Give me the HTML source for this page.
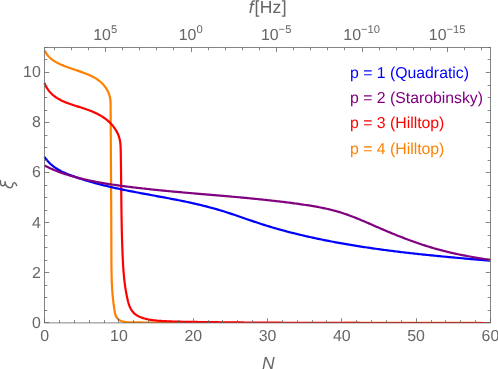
<!DOCTYPE html>
<html><head><meta charset="utf-8"><title>plot</title>
<style>html,body{margin:0;padding:0;background:#fff;overflow:hidden}svg{display:block;will-change:transform}text{font-family:"Liberation Sans",sans-serif;text-rendering:geometricPrecision}</style></head><body>
<svg width="498" height="369" viewBox="0 0 498 369">
<rect width="498" height="369" fill="#fff"/>
<defs><clipPath id="c"><rect x="42" y="45" width="449.5" height="278"/></clipPath></defs>
<g clip-path="url(#c)" fill="none" stroke-width="2.2" stroke-linejoin="round">
<path d="M44.65 50.53 L45.38 51.93 L46.18 53.25 L47.05 54.49 L47.99 55.66 L48.99 56.76 L50.05 57.80 L51.16 58.77 L52.32 59.68 L53.53 60.55 L54.77 61.36 L56.05 62.12 L57.36 62.84 L58.69 63.52 L60.05 64.17 L61.43 64.78 L62.83 65.37 L64.23 65.93 L65.64 66.47 L67.05 67.00 L68.46 67.51 L69.87 68.00 L71.28 68.49 L72.69 68.98 L74.09 69.46 L75.50 69.93 L76.91 70.41 L78.32 70.90 L79.72 71.38 L81.13 71.88 L82.54 72.39 L83.95 72.91 L85.35 73.45 L86.76 74.00 L88.16 74.58 L89.54 75.18 L90.92 75.82 L92.27 76.48 L93.60 77.17 L94.91 77.91 L96.19 78.68 L97.44 79.50 L98.65 80.36 L99.81 81.27 L100.94 82.23 L102.02 83.24 L103.05 84.30 L104.04 85.41 L104.96 86.57 L105.83 87.79 L106.64 89.05 L107.39 90.37 L108.06 91.73 L108.66 93.13 L109.19 94.55 L109.63 96.00 L109.98 97.47 L110.25 98.94 L110.42 100.43 L110.53 101.91 L110.59 103.40 L110.62 104.90 L110.63 106.39 L110.64 107.89 L110.64 109.38 L110.65 110.88 L110.66 112.37 L110.67 113.87 L110.68 115.36 L110.68 116.86 L110.69 118.35 L110.70 119.85 L110.71 121.34 L110.72 122.84 L110.73 124.34 L110.73 125.83 L110.74 127.33 L110.75 128.82 L110.76 130.32 L110.77 131.82 L110.78 133.31 L110.79 134.81 L110.79 136.31 L110.80 137.80 L110.81 139.30 L110.82 140.80 L110.83 142.30 L110.84 143.79 L110.85 145.29 L110.85 146.79 L110.86 148.28 L110.87 149.78 L110.88 151.28 L110.89 152.78 L110.90 154.28 L110.91 155.77 L110.92 157.27 L110.92 158.77 L110.93 160.27 L110.94 161.76 L110.95 163.26 L110.96 164.76 L110.97 166.26 L110.98 167.76 L110.98 169.25 L110.99 170.75 L111.00 172.25 L111.01 173.75 L111.02 175.25 L111.03 176.75 L111.04 178.24 L111.04 179.74 L111.05 181.24 L111.06 182.74 L111.07 184.24 L111.08 185.73 L111.09 187.23 L111.09 188.73 L111.10 190.23 L111.11 191.73 L111.12 193.23 L111.13 194.72 L111.14 196.22 L111.14 197.72 L111.15 199.22 L111.16 200.72 L111.17 202.21 L111.17 203.71 L111.18 205.21 L111.19 206.71 L111.20 208.20 L111.20 209.70 L111.21 211.20 L111.22 212.70 L111.23 214.20 L111.23 215.69 L111.24 217.19 L111.25 218.69 L111.25 220.19 L111.26 221.68 L111.27 223.18 L111.28 224.68 L111.28 226.17 L111.29 227.67 L111.29 229.17 L111.30 230.66 L111.31 232.16 L111.31 233.66 L111.32 235.15 L111.33 236.65 L111.33 238.15 L111.34 239.64 L111.34 241.14 L111.35 242.63 L111.35 244.13 L111.36 245.63 L111.36 247.12 L111.37 248.62 L111.37 250.11 L111.38 251.61 L111.38 253.10 L111.39 254.60 L111.39 256.09 L111.40 257.59 L111.40 259.08 L111.41 260.57 L111.42 262.07 L111.42 263.56 L111.43 265.06 L111.45 266.55 L111.46 268.05 L111.48 269.54 L111.50 271.03 L111.53 272.53 L111.56 274.02 L111.59 275.52 L111.63 277.01 L111.68 278.51 L111.73 280.00 L111.78 281.50 L111.85 282.99 L111.91 284.49 L111.99 285.98 L112.07 287.48 L112.16 288.97 L112.26 290.47 L112.37 291.97 L112.49 293.46 L112.61 294.96 L112.75 296.46 L112.89 297.96 L113.05 299.45 L113.21 300.95 L113.39 302.45 L113.57 303.95 L113.77 305.45 L113.99 306.95 L114.21 308.45 L114.45 309.95 L114.70 311.45 L114.98 312.94 L115.34 314.39 L115.80 315.77 L116.42 317.06 L117.22 318.24 L118.22 319.27 L119.40 320.12 L120.72 320.80 L122.14 321.32 L123.64 321.70 L125.17 321.97 L126.71 322.15 L128.22 322.26 L129.73 322.33 L131.23 322.36 L132.73 322.38 L134.22 322.39 L135.71 322.41 L137.21 322.42 L138.70 322.44 L140.20 322.45 L141.69 322.46 L143.19 322.48 L144.69 322.49 L146.18 322.50 L147.68 322.52 L149.17 322.53 L150.67 322.54 L152.16 322.56 L153.66 322.57 L155.15 322.58 L156.65 322.59 L158.14 322.60 L159.64 322.61 L161.13 322.63 L162.63 322.64 L164.13 322.65 L165.62 322.66 L167.12 322.67 L168.61 322.68 L170.11 322.69 L171.61 322.70 L173.10 322.71 L174.60 322.72 L176.09 322.73 L177.59 322.74 L179.09 322.75 L180.58 322.75 L182.08 322.76 L183.57 322.77 L185.07 322.78 L186.57 322.79 L188.06 322.80 L189.56 322.80 L191.06 322.81 L192.55 322.82 L194.05 322.83 L195.55 322.83 L197.04 322.84 L198.54 322.85 L200.04 322.85 L201.53 322.86 L203.03 322.87 L204.53 322.87 L206.02 322.88 L207.52 322.88 L209.02 322.89 L210.51 322.90 L212.01 322.90 L213.51 322.91 L215.00 322.91 L216.50 322.92 L218.00 322.92 L219.49 322.93 L220.99 322.93 L222.49 322.93 L223.99 322.94 L225.48 322.94 L226.98 322.95 L228.48 322.95 L229.97 322.95 L231.47 322.96 L232.97 322.96 L234.47 322.96 L235.96 322.97 L237.46 322.97 L238.96 322.97 L240.46 322.98 L241.95 322.98 L243.45 322.98 L244.95 322.98 L246.45 322.99 L247.94 322.99 L249.44 322.99 L250.94 322.99 L252.44 323.00 L253.93 323.00 L255.43 323.00 L256.93 323.00 L258.43 323.00 L259.92 323.00 L261.42 323.01 L262.92 323.01 L264.42 323.01 L265.91 323.01 L267.41 323.01 L268.91 323.01 L270.41 323.01 L271.91 323.01 L273.40 323.01 L274.90 323.01 L276.40 323.01 L277.90 323.01 L279.39 323.01 L280.89 323.02 L282.39 323.02 L283.89 323.02 L285.39 323.02 L286.88 323.02 L288.38 323.02 L289.88 323.02 L291.38 323.01 L292.88 323.01 L294.37 323.01 L295.87 323.01 L297.37 323.01 L298.87 323.01 L300.36 323.01 L301.86 323.01 L303.36 323.01 L304.86 323.01 L306.36 323.01 L307.85 323.01 L309.35 323.01 L310.85 323.01 L312.35 323.01 L313.85 323.00 L315.34 323.00 L316.84 323.00 L318.34 323.00 L319.84 323.00 L321.34 323.00 L322.83 323.00 L324.33 323.00 L325.83 322.99 L327.33 322.99 L328.83 322.99 L330.32 322.99 L331.82 322.99 L333.32 322.99 L334.82 322.99 L336.32 322.98 L337.81 322.98 L339.31 322.98 L340.81 322.98 L342.31 322.98 L343.80 322.98 L345.30 322.97 L346.80 322.97 L348.30 322.97 L349.80 322.97 L351.29 322.97 L352.79 322.97 L354.29 322.96 L355.79 322.96 L357.29 322.96 L358.78 322.96 L360.28 322.96 L361.78 322.96 L363.28 322.95 L364.77 322.95 L366.27 322.95 L367.77 322.95 L369.27 322.95 L370.77 322.95 L372.26 322.94 L373.76 322.94 L375.26 322.94 L376.76 322.94 L378.25 322.94 L379.75 322.94 L381.25 322.94 L382.75 322.93 L384.24 322.93 L385.74 322.93 L387.24 322.93 L388.74 322.93 L390.23 322.93 L391.73 322.93 L393.23 322.92 L394.73 322.92 L396.22 322.92 L397.72 322.92 L399.22 322.92 L400.72 322.92 L402.21 322.92 L403.71 322.92 L405.21 322.92 L406.71 322.92 L408.20 322.92 L409.70 322.91 L411.20 322.91 L412.69 322.91 L414.19 322.91 L415.69 322.91 L417.19 322.91 L418.68 322.91 L420.18 322.91 L421.68 322.91 L423.17 322.91 L424.67 322.91 L426.17 322.91 L427.66 322.91 L429.16 322.91 L430.66 322.91 L432.15 322.91 L433.65 322.91 L435.15 322.91 L436.64 322.91 L438.14 322.91 L439.64 322.91 L441.13 322.91 L442.63 322.92 L444.13 322.92 L445.62 322.92 L447.12 322.92 L448.62 322.92 L450.11 322.92 L451.61 322.92 L453.11 322.92 L454.60 322.93 L456.10 322.93 L457.59 322.93 L459.09 322.93 L460.59 322.93 L462.08 322.94 L463.58 322.94 L465.07 322.94 L466.57 322.94 L468.07 322.95 L469.56 322.95 L471.06 322.95 L472.55 322.95 L474.05 322.96 L475.55 322.96 L477.04 322.96 L478.54 322.97 L480.03 322.97 L481.53 322.97 L483.02 322.98 L484.52 322.98 L486.01 322.99 L487.51 322.99 L489.00 322.99 L490.50 323.00" stroke="#ff8000"/>
<path d="M44.47 83.01 L45.11 84.54 L45.80 85.99 L46.55 87.38 L47.36 88.69 L48.22 89.93 L49.13 91.11 L50.08 92.23 L51.09 93.29 L52.13 94.30 L53.22 95.25 L54.35 96.15 L55.52 97.00 L56.72 97.81 L57.95 98.58 L59.21 99.30 L60.51 99.99 L61.83 100.65 L63.17 101.27 L64.53 101.87 L65.92 102.44 L67.32 102.98 L68.74 103.51 L70.17 104.02 L71.61 104.51 L73.06 104.99 L74.52 105.47 L75.98 105.93 L77.44 106.40 L78.90 106.86 L80.36 107.32 L81.82 107.79 L83.27 108.26 L84.71 108.74 L86.15 109.24 L87.57 109.74 L88.99 110.26 L90.39 110.80 L91.78 111.35 L93.16 111.93 L94.53 112.52 L95.88 113.14 L97.21 113.79 L98.52 114.47 L99.82 115.17 L101.09 115.91 L102.35 116.68 L103.58 117.49 L104.79 118.33 L105.98 119.22 L107.14 120.14 L108.27 121.11 L109.38 122.13 L110.45 123.18 L111.49 124.28 L112.48 125.42 L113.44 126.59 L114.35 127.80 L115.20 129.04 L116.01 130.32 L116.75 131.62 L117.44 132.95 L118.06 134.31 L118.61 135.70 L119.09 137.11 L119.50 138.54 L119.83 139.99 L120.09 141.46 L120.29 142.95 L120.45 144.44 L120.56 145.94 L120.63 147.45 L120.69 148.97 L120.72 150.48 L120.75 151.99 L120.78 153.50 L120.80 155.00 L120.83 156.50 L120.85 157.99 L120.87 159.48 L120.90 160.97 L120.92 162.46 L120.94 163.95 L120.96 165.44 L120.98 166.94 L121.00 168.43 L121.02 169.92 L121.03 171.41 L121.05 172.91 L121.07 174.40 L121.08 175.90 L121.10 177.39 L121.12 178.89 L121.13 180.39 L121.15 181.88 L121.16 183.38 L121.18 184.88 L121.19 186.38 L121.21 187.88 L121.22 189.37 L121.24 190.87 L121.25 192.37 L121.27 193.87 L121.28 195.37 L121.30 196.87 L121.31 198.38 L121.33 199.88 L121.35 201.38 L121.36 202.88 L121.38 204.38 L121.40 205.88 L121.42 207.38 L121.44 208.88 L121.46 210.38 L121.48 211.88 L121.50 213.39 L121.52 214.89 L121.54 216.39 L121.57 217.89 L121.59 219.39 L121.62 220.89 L121.65 222.39 L121.67 223.89 L121.70 225.39 L121.73 226.89 L121.77 228.39 L121.80 229.89 L121.83 231.39 L121.87 232.89 L121.91 234.38 L121.95 235.88 L121.99 237.38 L122.03 238.88 L122.07 240.37 L122.12 241.87 L122.16 243.36 L122.21 244.86 L122.26 246.35 L122.31 247.85 L122.37 249.34 L122.42 250.83 L122.48 252.32 L122.54 253.81 L122.61 255.30 L122.67 256.79 L122.74 258.28 L122.81 259.77 L122.88 261.26 L122.96 262.75 L123.04 264.23 L123.13 265.72 L123.23 267.21 L123.33 268.69 L123.43 270.18 L123.55 271.67 L123.67 273.16 L123.80 274.64 L123.94 276.13 L124.08 277.62 L124.24 279.11 L124.40 280.60 L124.58 282.09 L124.77 283.58 L124.97 285.07 L125.18 286.56 L125.40 288.06 L125.64 289.55 L125.89 291.05 L126.15 292.55 L126.43 294.05 L126.72 295.55 L127.03 297.05 L127.35 298.55 L127.70 300.05 L128.07 301.55 L128.48 303.02 L128.93 304.46 L129.43 305.87 L129.99 307.24 L130.62 308.55 L131.33 309.81 L132.12 310.99 L133.00 312.10 L133.98 313.13 L135.06 314.07 L136.24 314.92 L137.49 315.70 L138.81 316.40 L140.19 317.03 L141.63 317.59 L143.10 318.10 L144.59 318.54 L146.11 318.94 L147.64 319.29 L149.16 319.59 L150.67 319.85 L152.17 320.08 L153.66 320.28 L155.15 320.45 L156.63 320.60 L158.10 320.73 L159.58 320.85 L161.06 320.95 L162.53 321.04 L164.02 321.13 L165.50 321.21 L166.98 321.28 L168.47 321.35 L169.96 321.41 L171.45 321.46 L172.94 321.52 L174.43 321.56 L175.92 321.60 L177.42 321.64 L178.92 321.68 L180.41 321.71 L181.91 321.74 L183.41 321.77 L184.91 321.79 L186.41 321.81 L187.90 321.84 L189.40 321.86 L190.90 321.88 L192.40 321.90 L193.90 321.92 L195.40 321.94 L196.90 321.96 L198.40 321.98 L199.90 322.00 L201.40 322.02 L202.90 322.04 L204.40 322.06 L205.89 322.07 L207.39 322.09 L208.89 322.11 L210.39 322.13 L211.89 322.15 L213.39 322.16 L214.89 322.18 L216.39 322.20 L217.88 322.21 L219.38 322.23 L220.88 322.25 L222.38 322.26 L223.88 322.28 L225.38 322.29 L226.88 322.31 L228.38 322.32 L229.87 322.34 L231.37 322.35 L232.87 322.37 L234.37 322.38 L235.87 322.40 L237.37 322.41 L238.86 322.42 L240.36 322.44 L241.86 322.45 L243.36 322.46 L244.86 322.48 L246.36 322.49 L247.85 322.50 L249.35 322.51 L250.85 322.52 L252.35 322.54 L253.85 322.55 L255.35 322.56 L256.84 322.57 L258.34 322.58 L259.84 322.59 L261.34 322.60 L262.84 322.61 L264.33 322.62 L265.83 322.63 L267.33 322.64 L268.83 322.65 L270.33 322.66 L271.82 322.67 L273.32 322.68 L274.82 322.69 L276.32 322.70 L277.81 322.71 L279.31 322.72 L280.81 322.72 L282.31 322.73 L283.81 322.74 L285.30 322.75 L286.80 322.76 L288.30 322.76 L289.80 322.77 L291.30 322.78 L292.79 322.79 L294.29 322.79 L295.79 322.80 L297.29 322.81 L298.78 322.81 L300.28 322.82 L301.78 322.83 L303.28 322.83 L304.77 322.84 L306.27 322.84 L307.77 322.85 L309.27 322.86 L310.76 322.86 L312.26 322.87 L313.76 322.87 L315.26 322.88 L316.75 322.88 L318.25 322.89 L319.75 322.89 L321.25 322.90 L322.75 322.90 L324.24 322.90 L325.74 322.91 L327.24 322.91 L328.74 322.92 L330.23 322.92 L331.73 322.92 L333.23 322.93 L334.73 322.93 L336.22 322.93 L337.72 322.94 L339.22 322.94 L340.72 322.94 L342.21 322.95 L343.71 322.95 L345.21 322.95 L346.71 322.95 L348.20 322.96 L349.70 322.96 L351.20 322.96 L352.69 322.96 L354.19 322.97 L355.69 322.97 L357.19 322.97 L358.68 322.97 L360.18 322.98 L361.68 322.98 L363.18 322.98 L364.67 322.98 L366.17 322.98 L367.67 322.98 L369.17 322.98 L370.66 322.99 L372.16 322.99 L373.66 322.99 L375.16 322.99 L376.65 322.99 L378.15 322.99 L379.65 322.99 L381.15 322.99 L382.64 322.99 L384.14 323.00 L385.64 323.00 L387.14 323.00 L388.64 323.00 L390.13 323.00 L391.63 323.00 L393.13 323.00 L394.63 323.00 L396.12 323.00 L397.62 323.00 L399.12 323.00 L400.62 323.00 L402.11 323.00 L403.61 323.00 L405.11 323.00 L406.61 323.00 L408.10 323.00 L409.60 323.00 L411.10 323.00 L412.60 323.00 L414.09 323.00 L415.59 323.00 L417.09 323.00 L418.59 323.00 L420.09 323.00 L421.58 323.00 L423.08 323.00 L424.58 323.00 L426.08 323.00 L427.57 323.00 L429.07 323.00 L430.57 323.00 L432.07 323.00 L433.57 323.00 L435.06 323.00 L436.56 323.00 L438.06 323.00 L439.56 323.00 L441.06 323.00 L442.55 323.00 L444.05 323.00 L445.55 323.00 L447.05 323.00 L448.55 323.00 L450.04 323.00 L451.54 323.00 L453.04 323.00 L454.54 323.00 L456.04 323.00 L457.54 323.00 L459.03 323.00 L460.53 323.00 L462.03 323.00 L463.53 323.00 L465.03 323.00 L466.53 323.00 L468.02 323.00 L469.52 323.00 L471.02 323.00 L472.52 323.00 L474.02 323.00 L475.52 323.00 L477.01 323.00 L478.51 323.00 L480.01 323.00 L481.51 323.00 L483.01 323.00 L484.51 323.00 L486.01 323.00 L487.51 323.00 L489.00 323.00 L490.50 323.00" stroke="#ff0000"/>
<path d="M44.47 156.74 L45.34 158.04 L46.25 159.28 L47.19 160.47 L48.18 161.60 L49.21 162.68 L50.27 163.72 L51.37 164.71 L52.50 165.65 L53.66 166.56 L54.85 167.42 L56.07 168.24 L57.31 169.03 L58.58 169.78 L59.87 170.50 L61.18 171.20 L62.50 171.86 L63.85 172.50 L65.21 173.11 L66.58 173.70 L67.97 174.27 L69.36 174.82 L70.77 175.36 L72.18 175.88 L73.59 176.40 L75.01 176.90 L76.43 177.39 L77.85 177.87 L79.28 178.35 L80.70 178.82 L82.13 179.28 L83.56 179.73 L84.99 180.18 L86.42 180.61 L87.86 181.05 L89.29 181.47 L90.73 181.88 L92.17 182.29 L93.61 182.70 L95.06 183.09 L96.50 183.48 L97.95 183.87 L99.39 184.25 L100.84 184.62 L102.29 184.99 L103.74 185.35 L105.20 185.70 L106.65 186.05 L108.10 186.40 L109.56 186.74 L111.02 187.08 L112.48 187.41 L113.93 187.73 L115.39 188.06 L116.86 188.38 L118.32 188.69 L119.78 189.00 L121.25 189.31 L122.71 189.62 L124.18 189.92 L125.64 190.22 L127.11 190.51 L128.58 190.80 L130.05 191.09 L131.51 191.38 L132.98 191.67 L134.45 191.95 L135.93 192.23 L137.40 192.51 L138.87 192.79 L140.34 193.07 L141.81 193.34 L143.28 193.62 L144.76 193.89 L146.23 194.16 L147.70 194.43 L149.18 194.70 L150.65 194.97 L152.12 195.24 L153.60 195.51 L155.07 195.78 L156.54 196.05 L158.02 196.32 L159.49 196.59 L160.96 196.87 L162.43 197.14 L163.91 197.41 L165.38 197.69 L166.85 197.96 L168.32 198.24 L169.79 198.52 L171.26 198.80 L172.73 199.08 L174.20 199.36 L175.67 199.65 L177.14 199.94 L178.61 200.23 L180.07 200.52 L181.54 200.82 L183.01 201.12 L184.47 201.42 L185.93 201.73 L187.40 202.04 L188.86 202.35 L190.32 202.67 L191.78 202.99 L193.24 203.31 L194.70 203.64 L196.15 203.98 L197.61 204.31 L199.06 204.65 L200.51 205.00 L201.97 205.35 L203.42 205.71 L204.87 206.07 L206.31 206.44 L207.76 206.81 L209.20 207.19 L210.65 207.58 L212.09 207.97 L213.53 208.36 L214.97 208.76 L216.40 209.17 L217.84 209.59 L219.27 210.01 L220.70 210.44 L222.13 210.88 L223.56 211.32 L224.98 211.77 L226.41 212.22 L227.83 212.68 L229.26 213.15 L230.68 213.62 L232.10 214.09 L233.52 214.57 L234.93 215.04 L236.35 215.53 L237.77 216.01 L239.19 216.50 L240.60 216.98 L242.02 217.47 L243.44 217.96 L244.85 218.45 L246.27 218.94 L247.68 219.43 L249.10 219.92 L250.52 220.40 L251.94 220.89 L253.36 221.37 L254.77 221.85 L256.20 222.32 L257.62 222.80 L259.04 223.26 L260.46 223.73 L261.89 224.19 L263.32 224.64 L264.74 225.09 L266.17 225.54 L267.60 225.98 L269.04 226.42 L270.47 226.85 L271.90 227.28 L273.34 227.70 L274.77 228.12 L276.21 228.53 L277.65 228.94 L279.09 229.35 L280.53 229.75 L281.98 230.15 L283.42 230.54 L284.86 230.93 L286.31 231.32 L287.76 231.70 L289.20 232.07 L290.65 232.45 L292.10 232.82 L293.55 233.18 L295.00 233.55 L296.46 233.90 L297.91 234.26 L299.36 234.61 L300.82 234.96 L302.27 235.30 L303.73 235.64 L305.19 235.98 L306.65 236.31 L308.10 236.64 L309.56 236.97 L311.02 237.29 L312.49 237.61 L313.95 237.93 L315.41 238.25 L316.87 238.56 L318.34 238.87 L319.80 239.17 L321.26 239.47 L322.73 239.77 L324.20 240.07 L325.66 240.36 L327.13 240.65 L328.60 240.94 L330.06 241.22 L331.53 241.50 L333.00 241.78 L334.47 242.06 L335.94 242.33 L337.41 242.60 L338.88 242.87 L340.35 243.14 L341.83 243.40 L343.30 243.66 L344.77 243.92 L346.24 244.17 L347.72 244.42 L349.19 244.67 L350.67 244.92 L352.14 245.17 L353.62 245.41 L355.09 245.65 L356.57 245.89 L358.05 246.12 L359.52 246.35 L361.00 246.59 L362.48 246.81 L363.96 247.04 L365.44 247.26 L366.92 247.49 L368.40 247.71 L369.88 247.92 L371.36 248.14 L372.84 248.35 L374.32 248.56 L375.80 248.77 L377.28 248.98 L378.76 249.19 L380.24 249.39 L381.73 249.59 L383.21 249.79 L384.69 249.99 L386.18 250.18 L387.66 250.38 L389.14 250.57 L390.63 250.76 L392.11 250.95 L393.60 251.13 L395.08 251.32 L396.57 251.50 L398.05 251.68 L399.54 251.86 L401.03 252.04 L402.51 252.22 L404.00 252.39 L405.49 252.57 L406.97 252.74 L408.46 252.91 L409.95 253.08 L411.43 253.25 L412.92 253.41 L414.41 253.58 L415.90 253.74 L417.39 253.90 L418.87 254.06 L420.36 254.22 L421.85 254.38 L423.34 254.54 L424.83 254.69 L426.32 254.85 L427.81 255.00 L429.30 255.15 L430.79 255.31 L432.28 255.46 L433.77 255.60 L435.26 255.75 L436.75 255.90 L438.23 256.05 L439.72 256.19 L441.21 256.34 L442.70 256.48 L444.19 256.62 L445.69 256.76 L447.18 256.90 L448.67 257.04 L450.16 257.18 L451.65 257.32 L453.14 257.46 L454.63 257.59 L456.12 257.73 L457.61 257.87 L459.10 258.00 L460.59 258.14 L462.08 258.27 L463.57 258.40 L465.06 258.54 L466.55 258.67 L468.04 258.80 L469.53 258.93 L471.02 259.06 L472.51 259.19 L474.00 259.32 L475.49 259.45 L476.98 259.58 L478.47 259.71 L479.96 259.84 L481.45 259.97 L482.93 260.10 L484.42 260.22 L485.91 260.35 L487.40 260.48 L488.89 260.61 L490.38 260.74" stroke="#0000ff"/>
<path d="M44.51 165.47 L45.85 166.17 L47.19 166.84 L48.54 167.50 L49.90 168.14 L51.27 168.77 L52.64 169.37 L54.02 169.96 L55.40 170.53 L56.79 171.08 L58.18 171.62 L59.58 172.14 L60.99 172.65 L62.40 173.14 L63.81 173.63 L65.23 174.09 L66.65 174.55 L68.08 174.99 L69.51 175.43 L70.94 175.85 L72.38 176.26 L73.82 176.66 L75.26 177.06 L76.70 177.44 L78.15 177.82 L79.60 178.18 L81.05 178.54 L82.50 178.89 L83.96 179.24 L85.41 179.57 L86.87 179.90 L88.33 180.22 L89.80 180.54 L91.26 180.84 L92.73 181.14 L94.20 181.44 L95.67 181.72 L97.14 182.00 L98.61 182.28 L100.09 182.55 L101.56 182.81 L103.04 183.07 L104.52 183.32 L106.00 183.57 L107.48 183.81 L108.96 184.04 L110.44 184.28 L111.93 184.50 L113.41 184.73 L114.90 184.95 L116.38 185.16 L117.87 185.37 L119.36 185.58 L120.84 185.78 L122.33 185.98 L123.82 186.18 L125.31 186.37 L126.80 186.57 L128.29 186.75 L129.78 186.94 L131.27 187.13 L132.76 187.31 L134.25 187.49 L135.75 187.66 L137.24 187.84 L138.73 188.01 L140.22 188.19 L141.71 188.35 L143.20 188.52 L144.69 188.69 L146.18 188.85 L147.68 189.01 L149.17 189.18 L150.66 189.33 L152.15 189.49 L153.64 189.65 L155.14 189.80 L156.63 189.95 L158.12 190.10 L159.61 190.25 L161.10 190.40 L162.60 190.55 L164.09 190.69 L165.58 190.84 L167.08 190.98 L168.57 191.12 L170.06 191.26 L171.55 191.40 L173.05 191.54 L174.54 191.68 L176.03 191.82 L177.53 191.95 L179.02 192.09 L180.51 192.22 L182.01 192.35 L183.50 192.49 L184.99 192.62 L186.48 192.75 L187.98 192.88 L189.47 193.01 L190.96 193.14 L192.46 193.27 L193.95 193.40 L195.44 193.53 L196.94 193.65 L198.43 193.78 L199.92 193.91 L201.42 194.04 L202.91 194.16 L204.40 194.29 L205.90 194.42 L207.39 194.54 L208.88 194.67 L210.38 194.80 L211.87 194.92 L213.36 195.05 L214.86 195.18 L216.35 195.30 L217.84 195.43 L219.34 195.56 L220.83 195.69 L222.32 195.82 L223.82 195.95 L225.31 196.08 L226.80 196.21 L228.29 196.34 L229.79 196.47 L231.28 196.60 L232.77 196.73 L234.26 196.86 L235.76 197.00 L237.25 197.13 L238.74 197.27 L240.23 197.41 L241.73 197.54 L243.22 197.68 L244.71 197.82 L246.20 197.96 L247.69 198.10 L249.19 198.25 L250.68 198.39 L252.17 198.54 L253.66 198.68 L255.15 198.83 L256.64 198.98 L258.13 199.13 L259.62 199.29 L261.12 199.44 L262.61 199.59 L264.10 199.75 L265.59 199.91 L267.08 200.07 L268.57 200.23 L270.06 200.40 L271.55 200.56 L273.04 200.73 L274.53 200.90 L276.02 201.07 L277.51 201.25 L278.99 201.42 L280.48 201.60 L281.97 201.78 L283.46 201.96 L284.95 202.15 L286.44 202.33 L287.93 202.52 L289.41 202.71 L290.90 202.90 L292.39 203.10 L293.88 203.30 L295.36 203.50 L296.85 203.70 L298.34 203.91 L299.82 204.12 L301.31 204.33 L302.80 204.54 L304.28 204.76 L305.77 204.98 L307.25 205.21 L308.74 205.44 L310.22 205.68 L311.70 205.92 L313.18 206.17 L314.66 206.42 L316.13 206.68 L317.61 206.95 L319.08 207.22 L320.55 207.51 L322.02 207.80 L323.49 208.10 L324.95 208.41 L326.42 208.73 L327.87 209.05 L329.33 209.39 L330.78 209.74 L332.23 210.11 L333.68 210.48 L335.12 210.86 L336.56 211.26 L338.00 211.67 L339.43 212.10 L340.86 212.53 L342.28 212.98 L343.70 213.45 L345.12 213.92 L346.53 214.41 L347.94 214.91 L349.34 215.42 L350.75 215.94 L352.15 216.47 L353.54 217.01 L354.94 217.56 L356.33 218.11 L357.72 218.68 L359.11 219.25 L360.50 219.82 L361.88 220.40 L363.27 220.99 L364.65 221.58 L366.03 222.17 L367.41 222.77 L368.79 223.37 L370.17 223.97 L371.55 224.57 L372.92 225.18 L374.30 225.78 L375.68 226.39 L377.06 226.99 L378.44 227.59 L379.82 228.19 L381.20 228.79 L382.58 229.38 L383.96 229.97 L385.34 230.56 L386.73 231.15 L388.11 231.73 L389.50 232.31 L390.88 232.88 L392.27 233.45 L393.66 234.02 L395.05 234.59 L396.44 235.15 L397.83 235.70 L399.22 236.25 L400.62 236.80 L402.02 237.35 L403.41 237.89 L404.81 238.42 L406.21 238.95 L407.61 239.48 L409.02 240.00 L410.42 240.51 L411.83 241.02 L413.24 241.53 L414.65 242.03 L416.06 242.53 L417.47 243.02 L418.89 243.50 L420.30 243.98 L421.72 244.45 L423.14 244.92 L424.56 245.38 L425.99 245.84 L427.41 246.29 L428.84 246.73 L430.27 247.17 L431.71 247.60 L433.14 248.02 L434.58 248.44 L436.01 248.85 L437.46 249.26 L438.90 249.66 L440.34 250.05 L441.79 250.43 L443.24 250.81 L444.70 251.18 L446.15 251.54 L447.61 251.90 L449.07 252.25 L450.53 252.59 L451.99 252.92 L453.45 253.26 L454.92 253.58 L456.39 253.90 L457.86 254.21 L459.33 254.52 L460.80 254.82 L462.28 255.12 L463.75 255.41 L465.23 255.69 L466.71 255.97 L468.19 256.25 L469.67 256.52 L471.16 256.79 L472.64 257.05 L474.12 257.30 L475.61 257.56 L477.09 257.81 L478.58 258.05 L480.07 258.29 L481.56 258.53 L483.05 258.76 L484.54 258.99 L486.03 259.22 L487.52 259.44 L489.01 259.66 L490.50 259.88" stroke="#800080"/>
</g>
<path d="M44.50 322.90v-4.70M59.50 322.90v-2.80M74.50 322.90v-2.80M89.50 322.90v-2.80M104.50 322.90v-2.80M118.50 322.90v-4.70M133.50 322.90v-2.80M148.50 322.90v-2.80M163.50 322.90v-2.80M178.50 322.90v-2.80M193.50 322.90v-4.70M208.50 322.90v-2.80M222.50 322.90v-2.80M237.50 322.90v-2.80M252.50 322.90v-2.80M267.50 322.90v-4.70M282.50 322.90v-2.80M297.50 322.90v-2.80M312.50 322.90v-2.80M326.50 322.90v-2.80M341.50 322.90v-4.70M356.50 322.90v-2.80M371.50 322.90v-2.80M386.50 322.90v-2.80M401.50 322.90v-2.80M416.50 322.90v-4.70M431.50 322.90v-2.80M445.50 322.90v-2.80M460.50 322.90v-2.80M475.50 322.90v-2.80M490.50 322.90v-4.70M44.60 322.50h4.70M490.45 322.50h-4.70M44.60 310.50h2.80M490.45 310.50h-2.80M44.60 297.50h2.80M490.45 297.50h-2.80M44.60 285.50h2.80M490.45 285.50h-2.80M44.60 272.50h4.70M490.45 272.50h-4.70M44.60 260.50h2.80M490.45 260.50h-2.80M44.60 247.50h2.80M490.45 247.50h-2.80M44.60 235.50h2.80M490.45 235.50h-2.80M44.60 222.50h4.70M490.45 222.50h-4.70M44.60 210.50h2.80M490.45 210.50h-2.80M44.60 197.50h2.80M490.45 197.50h-2.80M44.60 185.50h2.80M490.45 185.50h-2.80M44.60 172.50h4.70M490.45 172.50h-4.70M44.60 160.50h2.80M490.45 160.50h-2.80M44.60 147.50h2.80M490.45 147.50h-2.80M44.60 135.50h2.80M490.45 135.50h-2.80M44.60 122.50h4.70M490.45 122.50h-4.70M44.60 110.50h2.80M490.45 110.50h-2.80M44.60 97.50h2.80M490.45 97.50h-2.80M44.60 85.50h2.80M490.45 85.50h-2.80M44.60 72.50h4.70M490.45 72.50h-4.70M44.60 59.50h2.80M490.45 59.50h-2.80M44.60 47.50h2.80M490.45 47.50h-2.80M54.50 47.45v2.80M71.50 47.45v2.80M88.50 47.45v2.80M105.50 47.45v4.70M122.50 47.45v2.80M139.50 47.45v2.80M156.50 47.45v2.80M173.50 47.45v2.80M191.50 47.45v4.70M208.50 47.45v2.80M225.50 47.45v2.80M242.50 47.45v2.80M259.50 47.45v2.80M276.50 47.45v4.70M293.50 47.45v2.80M310.50 47.45v2.80M327.50 47.45v2.80M344.50 47.45v2.80M362.50 47.45v4.70M379.50 47.45v2.80M396.50 47.45v2.80M413.50 47.45v2.80M430.50 47.45v2.80M447.50 47.45v4.70M464.50 47.45v2.80M481.50 47.45v2.80" stroke="#666666" stroke-width="1" stroke-opacity="0.8" fill="none"/>
<rect x="44.60" y="47.45" width="445.85" height="275.45" fill="none" stroke="#666666" stroke-width="0.80"/>
<g fill="#666666" font-size="15.9">
<text x="44.60" y="341.0" text-anchor="middle">0</text>
<text x="118.91" y="341.0" text-anchor="middle">10</text>
<text x="193.22" y="341.0" text-anchor="middle">20</text>
<text x="267.52" y="341.0" text-anchor="middle">30</text>
<text x="341.83" y="341.0" text-anchor="middle">40</text>
<text x="416.14" y="341.0" text-anchor="middle">50</text>
<text x="490.45" y="341.0" text-anchor="middle">60</text>
<text x="40.8" y="327.70" text-anchor="end">0</text>
<text x="40.8" y="277.62" text-anchor="end">2</text>
<text x="40.8" y="227.54" text-anchor="end">4</text>
<text x="40.8" y="177.45" text-anchor="end">6</text>
<text x="40.8" y="127.37" text-anchor="end">8</text>
<text x="40.8" y="77.29" text-anchor="end">10</text>
<text x="105.15" y="40.3" text-anchor="middle">10<tspan font-size="11.2" dy="-6.9">5</tspan></text>
<text x="190.65" y="40.3" text-anchor="middle">10<tspan font-size="11.2" dy="-6.9">0</tspan></text>
<text x="276.15" y="40.3" text-anchor="middle">10<tspan font-size="11.2" dy="-6.9">−5</tspan></text>
<text x="361.65" y="40.3" text-anchor="middle">10<tspan font-size="11.2" dy="-6.9">−10</tspan></text>
<text x="447.15" y="40.3" text-anchor="middle">10<tspan font-size="11.2" dy="-6.9">−15</tspan></text>
</g>
<text x="267.8" y="13.4" text-anchor="middle" fill="#666666" font-size="17.5"><tspan font-style="italic">f</tspan><tspan dx="0.9" letter-spacing="0.3">[Hz]</tspan></text>
<text x="268.2" y="368.6" text-anchor="middle" fill="#666666" font-size="17.5" font-style="italic">N</text>
<path d="M0.3 180.6 L0.6 183.6 C0.8 185.2 1.8 185.9 2.9 185.8 C4.2 185.7 5.0 184.8 5.1 183.2 L5.1 181.6 L5.2 183.2 C5.4 185.0 6.6 186.4 7.8 187.0 C9.2 187.8 10.8 187.9 11.8 187.0 C12.6 186.3 12.5 185.0 12.9 184.0 C13.3 183.0 13.9 182.6 14.6 182.6 C15.4 182.7 16.2 184.0 16.7 185.6" fill="none" stroke="#666666" stroke-width="1.45" stroke-linecap="round" stroke-linejoin="round"/>
<text x="350" y="77.60" fill="#0000ff" font-size="15.8">p = 1 (Quadratic)</text>
<text x="350" y="103.00" fill="#800080" font-size="15.8">p = 2 (Starobinsky)</text>
<text x="350" y="128.40" fill="#ff0000" font-size="15.8">p = 3 (Hilltop)</text>
<text x="350" y="153.80" fill="#ff8000" font-size="15.8">p = 4 (Hilltop)</text>
</svg></body></html>
